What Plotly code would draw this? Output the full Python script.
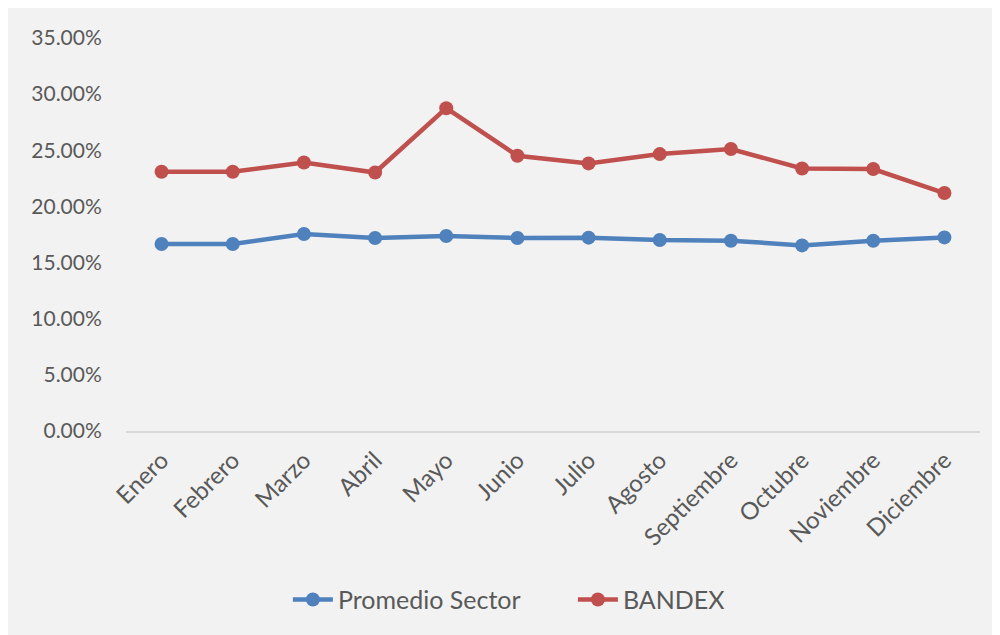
import plotly.graph_objects as go

meses = ["Enero", "Febrero", "Marzo", "Abril", "Mayo", "Junio", "Julio",
         "Agosto", "Septiembre", "Octubre", "Noviembre", "Diciembre"]
promedio_sector = [0.1665, 0.1665, 0.1754, 0.1719, 0.1737, 0.1719, 0.1722,
                   0.1701, 0.1695, 0.1653, 0.1695, 0.1724]
bandex = [0.2309, 0.2309, 0.2391, 0.2302, 0.2875, 0.2451, 0.2383,
          0.2466, 0.2511, 0.2338, 0.2333, 0.2119]
y_ticks = [0, 0.05, 0.10, 0.15, 0.20, 0.25, 0.30, 0.35]

FONT = "Lato, 'Noto Sans', sans-serif"
TXT = "#595959"

fig = go.Figure()
fig.add_trace(go.Scatter(
    x=meses, y=promedio_sector, name="Promedio Sector", mode="lines+markers",
    line=dict(color="#4f81bd", width=4.5), marker=dict(size=14, color="#4f81bd")))
fig.add_trace(go.Scatter(
    x=meses, y=bandex, name="BANDEX", mode="lines+markers",
    line=dict(color="#c0504d", width=4.5), marker=dict(size=14, color="#c0504d")))

# figure coordinates (page body has an 8px margin)
L, R, T, B = 118, 972.5, 29.5, 423
W, H = R - L, B - T

def px_x(p):
    return (p - L) / W

def px_y(p):
    return (B - p) / H

fig.update_layout(
    width=1000, height=635,
    margin=dict(l=L, r=1000 - R, t=T, b=635 - B),
    paper_bgcolor="#f2f2f2", plot_bgcolor="#f2f2f2",
    font=dict(family=FONT, size=20, color=TXT),
    showlegend=True,
    legend=dict(orientation="h", x=px_x(280), xanchor="left",
                y=px_y(592), yanchor="middle",
                font=dict(family=FONT, size=25, color=TXT),
                bgcolor="rgba(0,0,0,0)", itemwidth=40, entrywidth=230),
    xaxis=dict(type="category", tickangle=-45, showgrid=False,
               showline=True, linecolor="#d9d9d9", linewidth=1.5,
               ticks="outside", ticklen=4, tickcolor="rgba(0,0,0,0)",
               tickfont=dict(family=FONT, size=24, color=TXT),
               range=[-0.5, 11.5], fixedrange=True),
    yaxis=dict(range=[0, 0.35], tickvals=y_ticks, tickformat=".2%",
               showgrid=False, zeroline=False, showline=False,
               ticks="outside", ticklen=19, tickcolor="rgba(0,0,0,0)",
               tickfont=dict(family=FONT, size=21, color=TXT)),
)

fig.write_html("out.html")
